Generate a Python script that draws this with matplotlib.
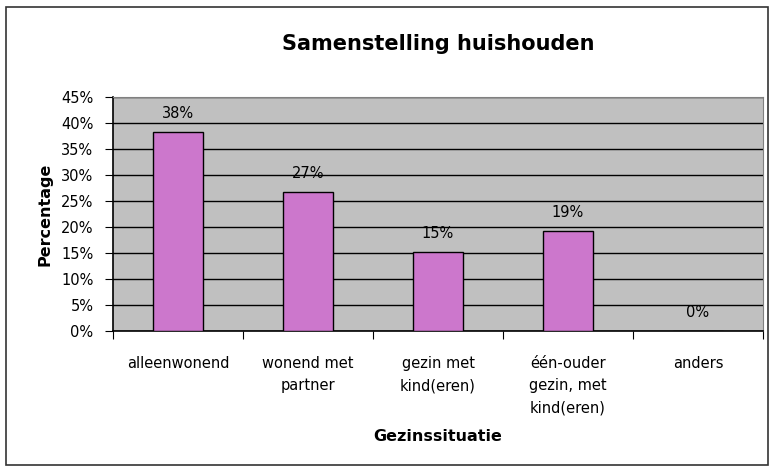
import matplotlib.pyplot as plt
from matplotlib.patches import Rectangle

categories = ['alleenwonend', 'wonend met\npartner', 'gezin met\nkind(eren)',
              'één-ouder\ngezin, met\nkind(eren)', 'anders']
values = [38.3, 26.7, 15.2, 19.2, 0.0]
labels = ['38%', '27%', '15%', '19%', '0%']
yticks = [0, 5, 10, 15, 20, 25, 30, 35, 40, 45]

plt.rcParams['font.family'] = 'DejaVu Sans'

fig = plt.figure(figsize=(7.73, 4.70), dpi=100)
ax = fig.add_axes([113 / 773, 1 - 331 / 470, 650 / 773, 234 / 470])

# outer chart border
fig.patches.append(Rectangle((6 / 773, 5 / 470), 762 / 773, 458 / 470,
                             transform=fig.transFigure, fill=False,
                             edgecolor='#333333', linewidth=1.2))

ax.set_facecolor('#C0C0C0')
x = range(len(categories))
bars = ax.bar(x, values, width=0.39, color='#CC77CC', edgecolor='black',
              linewidth=1, zorder=3)
for xi, v, lab in zip(x, values, labels):
    ax.annotate(lab, (xi, v), xytext=(0, 8), textcoords='offset points',
                ha='center', va='bottom', fontsize=10.5, zorder=4)

ax.set_xlim(-0.5, len(categories) - 0.5)
ax.set_ylim(0, 45)
ax.set_yticks(yticks)
ax.set_yticklabels([f'{t}%' for t in yticks], fontsize=10.5)
ax.yaxis.grid(True, color='black', linewidth=1, zorder=1)
ax.set_axisbelow(True)

ax.set_xticks([i + 0.5 for i in range(-1, len(categories))])
ax.set_xticklabels([])
ax.set_xticks(list(x), minor=True)
ax.set_xticklabels(categories, minor=True, fontsize=10.5, linespacing=1.6)
ax.tick_params(axis='x', which='minor', length=0, pad=18)
ax.tick_params(axis='x', which='major', length=6, direction='out')
ax.tick_params(axis='y', length=6, direction='out', pad=8)

for s in ['top', 'right']:
    ax.spines[s].set_color('#808080')
for s in ['left', 'bottom']:
    ax.spines[s].set_color('black')
    ax.spines[s].set_linewidth(1.2)

ax.set_ylabel('Percentage', fontsize=11.5, fontweight='bold', labelpad=6)
ax.set_xlabel('Gezinssituatie', fontsize=11.5, fontweight='bold', labelpad=10)
fig.text(438 / 773, 1 - 44 / 470, 'Samenstelling huishouden', ha='center',
         va='center', fontsize=15, fontweight='bold')

fig.savefig('out.png', dpi=100, facecolor='white')
